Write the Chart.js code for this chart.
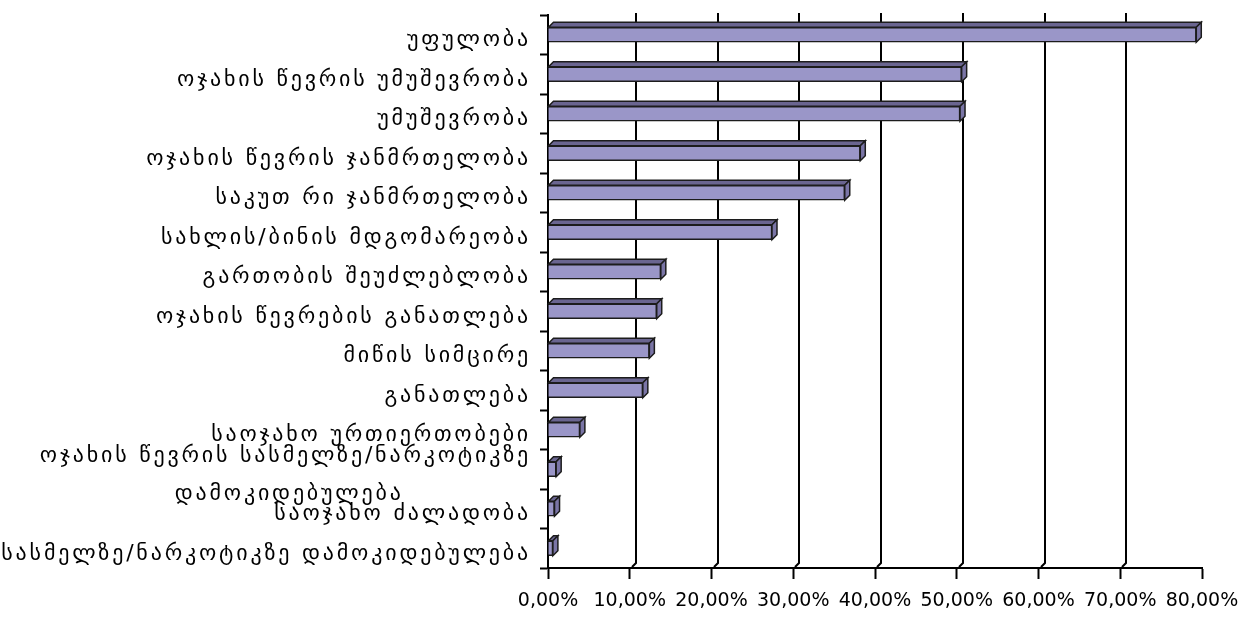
<!DOCTYPE html>
<html><head><meta charset="utf-8">
<script src="https://cdn.jsdelivr.net/npm/chart.js@4/dist/chart.umd.min.js"></script>
<style>html,body{margin:0;padding:0;background:#fff}#wrap{width:1245px;height:619px;position:relative}</style>
</head><body><div id="wrap"><canvas id="c"></canvas></div>
<script>
const categories = [
  'უფულობა',
  'ოჯახის წევრის უმუშევრობა',
  'უმუშევრობა',
  'ოჯახის წევრის ჯანმრთელობა',
  'საკუთ რი ჯანმრთელობა',
  'სახლის/ბინის მდგომარეობა',
  'გართობის შეუძლებლობა',
  'ოჯახის წევრების განათლება',
  'მიწის სიმცირე',
  'განათლება',
  'საოჯახო ურთიერთობები',
  ['ოჯახის წევრის სასმელზე/ნარკოტიკზე', 'დამოკიდებულება'],
  'საოჯახო ძალადობა',
  'სასმელზე/ნარკოტიკზე დამოკიდებულება'
];
const values = [79.3, 50.6, 50.4, 38.2, 36.3, 27.4, 13.8, 13.3, 12.4, 11.6, 3.9, 1.0, 0.8, 0.6];
const xTickValues = [0, 10, 20, 30, 40, 50, 60, 70, 80];
const xTickLabels = ['0,00%', '10,00%', '20,00%', '30,00%', '40,00%', '50,00%', '60,00%', '70,00%', '80,00%'];

const Y_SIZE = 22;
const Y_FONT = Y_SIZE + 'px "DejaVu Sans"';
const Y_LS = '2.8px';
const FRONT = '#9a96c8', TOPF = '#6a6590', SIDE = '#7a75a6';
const DX = 5, DY = 5, GDX = 6, GDY = 5;

const mctx = document.createElement('canvas').getContext('2d');
mctx.font = Y_FONT; mctx.letterSpacing = Y_LS;
function centerLines(lines) {
  const w = lines.map(l => mctx.measureText(l).width);
  const max = Math.max(...w);
  const sp = mctx.measureText(' ').width;
  return lines.map((l, i) => l + ' '.repeat(Math.round((max - w[i]) / 2 / sp)));
}

const bar3d = {
  id: 'bar3d',
  afterUpdate(chart) {
    const s = chart.scales.y;
    if (s && !s._lsWrapped) {
      const orig = s.drawLabels;
      s.drawLabels = function (area) {
        const c = this.ctx; c.save(); c.letterSpacing = Y_LS; c.translate(0, 6); orig.call(this, area); c.restore();
      };
      s._lsWrapped = true;
    }
  },
  beforeDatasetsDraw(chart) {
    const xs = chart.scales.x, ca = chart.chartArea, ctx = chart.ctx;
    ctx.save(); ctx.strokeStyle = '#000'; ctx.lineWidth = 2;
    xTickValues.forEach(v => {
      if (v === xs.min || v === xs.max) return;
      const px = Math.round(xs.getPixelForValue(v));
      ctx.beginPath();
      ctx.moveTo(px + GDX, ca.top - 2);
      ctx.lineTo(px + GDX, ca.bottom - GDY);
      ctx.lineTo(px + 2, ca.bottom - 1);
      ctx.stroke();
    });
    ctx.restore();
  },
  afterDatasetsDraw(chart) {
    const meta = chart.getDatasetMeta(0); const ctx = chart.ctx;
    ctx.save(); ctx.lineWidth = 1.5; ctx.strokeStyle = '#1c1c1c'; ctx.lineJoin = 'miter';
    meta.data.forEach(el => {
      const p = el.getProps(['x', 'y', 'base', 'height'], true);
      const top = p.y - p.height / 2, bot = p.y + p.height / 2;
      ctx.fillStyle = TOPF; ctx.beginPath();
      ctx.moveTo(p.base, top); ctx.lineTo(p.base + DX, top - DY); ctx.lineTo(p.x + DX, top - DY); ctx.lineTo(p.x, top);
      ctx.closePath(); ctx.fill(); ctx.stroke();
      ctx.fillStyle = SIDE; ctx.beginPath();
      ctx.moveTo(p.x, top); ctx.lineTo(p.x + DX, top - DY); ctx.lineTo(p.x + DX, bot - DY); ctx.lineTo(p.x, bot);
      ctx.closePath(); ctx.fill(); ctx.stroke();
    });
    ctx.restore();
  }
};

new Chart(document.getElementById('c'), {
  type: 'bar',
  data: {
    labels: categories,
    datasets: [{
      data: values,
      backgroundColor: FRONT,
      borderColor: '#1c1c1c',
      borderWidth: 1.5,
      barThickness: 15
    }]
  },
  options: {
    indexAxis: 'y',
    responsive: true,
    maintainAspectRatio: false,
    devicePixelRatio: 1,
    animation: false,
    layout: { padding: { top: 15, right: 43, left: 0, bottom: 0 } },
    plugins: { legend: { display: false }, tooltip: { enabled: false } },
    scales: {
      x: {
        min: 0, max: 80,
        afterFit(s) { s.height = 51; s.paddingLeft = 0; s.paddingRight = 0; },
        ticks: {
          stepSize: 10, autoSkip: false, maxRotation: 0, minRotation: 0,
          color: '#000', padding: 11,
          font: { family: '"DejaVu Sans"', size: 19 },
          callback: (v, i) => xTickLabels[i]
        },
        grid: { drawOnChartArea: false, drawTicks: true, tickLength: 11, tickColor: '#000', tickWidth: 2 },
        border: { display: true, color: '#000', width: 2 }
      },
      y: {
        afterFit(s) { s.width = 548; s.paddingTop = 0; s.paddingBottom = 0; },
        ticks: {
          autoSkip: false, color: '#000', padding: 9,
          font: { family: '"DejaVu Sans"', size: Y_SIZE, lineHeight: '38px' },
          callback: function (v, i) { const l = categories[i]; return Array.isArray(l) ? centerLines(l) : l; }
        },
        grid: { drawOnChartArea: false, drawTicks: true, tickLength: 8, tickColor: '#000', tickWidth: 2, offset: true },
        border: { display: true, color: '#000', width: 2 }
      }
    }
  },
  plugins: [bar3d]
});
</script>
</body></html>
